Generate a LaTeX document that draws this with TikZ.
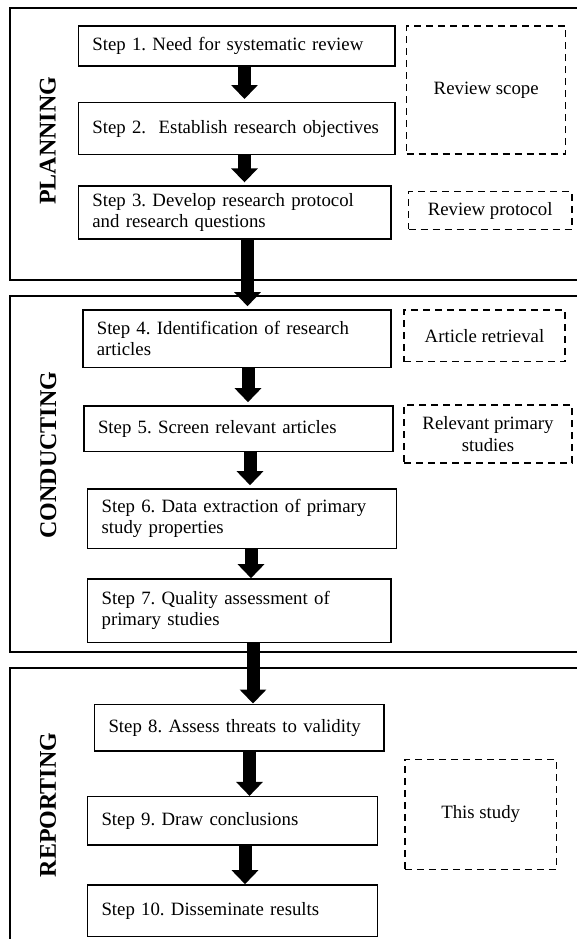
\documentclass[tikz,border=0pt]{standalone}
\usepackage{fontspec}
\setmainfont{Liberation Serif}
\usetikzlibrary{arrows.meta, positioning}
\frenchspacing
\hyphenpenalty=10000

\begin{document}
\begin{tikzpicture}[x=0.5pt, y=-0.5pt, font=\fontsize{9.4}{10.6}\selectfont,
    frame/.style={line width=1pt},
    stepbox/.style={draw, line width=0.7pt, align=left, inner xsep=7pt, inner ysep=0pt},
    outbox/.style={draw, dash pattern=on 3.5pt off 2.5pt, line width=0.6pt, align=center, inner sep=0pt},
    phase/.style={rotate=90, font=\fontsize{12}{14}\selectfont\bfseries},
    flow/.style={-{Triangle[width=13pt, length=7pt]}, line width=6.5pt},
    gap/.style={shorten >=1.5pt}]
    \useasboundingbox (0,0) rectangle (577,939);
    % frames
    \draw[frame] (577,8.3) -| (10.3,280) -- (577,280);
    \draw[frame] (577,296) -| (10.3,652.3) -- (577,652.3);
    \draw[frame] (577,668.3) -| (10.3,939);
    % Planning
    \begin{scope}
        \node[phase] (plan) at (47.8,140.7) {PLANNING};
        \node[stepbox, text width=144.3pt, minimum height=20pt] (s1) at (236.7,46) {Step 1. Need for systematic review};
        \node[stepbox, text width=144.3pt, minimum height=25.8pt] (s2) at (236.7,128.5) {\mbox{Step 2.\ \ Establish research objectives}};
        \node[stepbox, text width=142.3pt, minimum height=26.5pt] (s3) at (234.7,212.5) {Step 3. Develop research protocol\\and research questions};
        \node[outbox, minimum width=79.5pt, minimum height=64pt] (scope) at (486.2,90) {Review scope};
        \node[outbox, minimum width=81.7pt, minimum height=18.8pt] (proto) at (490.2,210.5) {Review protocol};
        \draw[flow, gap] (s1.south -| 244.5,0) -- (s2.north -| 244.5,0);
        \draw[flow, gap] (s2.south -| 244.5,0) -- (s3.north -| 244.5,0);
    \end{scope}
    % Conducting
    \begin{scope}
        \node[phase] (cond) at (48.3,455) {CONDUCTING};
        \node[stepbox, text width=140.1pt, minimum height=28.9pt] (s4) at (236.9,338.8) {Step 4. Identification of research\\articles};
        \node[stepbox, text width=140.5pt, minimum height=22.9pt] (s5) at (238.5,428.8) {Step 5. Screen relevant articles};
        \node[stepbox, text width=140.4pt, minimum height=29.9pt] (s6) at (242,518.8) {Step 6. Data extraction of primary\\study properties};
        \node[stepbox, text width=137.7pt, minimum height=31.9pt] (s7) at (239.3,610.8) {Step 7. Quality assessment of\\primary studies};
        \node[outbox, minimum width=80.5pt, minimum height=25.9pt] (retr) at (484.5,335.8) {Article retrieval};
        \node[outbox, minimum width=84pt, minimum height=29pt] (prim) at (488,434) {Relevant primary\\studies};
        \draw[flow, gap] (s3.south -| 247.5,0) -- (s4.north -| 247.5,0);
        \draw[flow, gap] (s4.south -| 248,0) -- (s5.north -| 248,0);
        \draw[flow, gap] (s5.south -| 250,0) -- (s6.north -| 250,0);
        \draw[flow] (s6.south -| 251,0) -- (s7.north -| 251,0);
    \end{scope}
    % Reporting
    \begin{scope}
        \node[phase] (rep) at (48,805) {REPORTING};
        \node[stepbox, text width=130.7pt, minimum height=23.4pt] (s8) at (239.2,727.6) {Step 8. Assess threats to validity};
        \node[stepbox, text width=130.9pt, minimum height=24.2pt] (s9) at (232.4,820.8) {Step 9. Draw conclusions};
        \node[stepbox, text width=130.9pt, minimum height=25.9pt] (s10) at (232.4,910.8) {Step 10. Disseminate results};
        \node[outbox, minimum width=75.8pt, minimum height=55pt] (this) at (480.7,814.3) {This study};
        \draw[flow] (s7.south -| 253,0) -- (s8.north -| 253,0);
        \draw[flow] (s8.south -| 249.5,0) -- (s9.north -| 249.5,0);
        \draw[flow] (s9.south -| 245,0) -- (s10.north -| 245,0);
    \end{scope}
\end{tikzpicture}
\end{document}
